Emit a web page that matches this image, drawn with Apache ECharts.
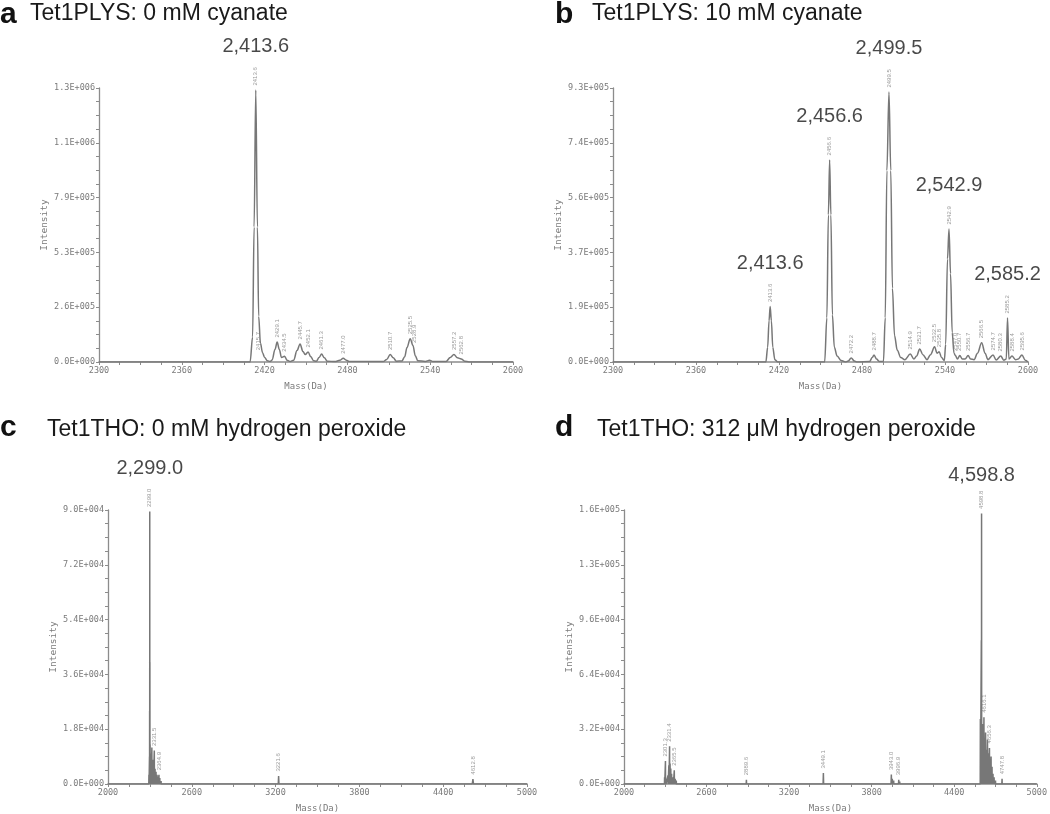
<!DOCTYPE html>
<html>
<head>
<meta charset="utf-8">
<script src="https://cdn.jsdelivr.net/npm/echarts@6/dist/echarts.min.js"></script>
<style>
html, body { margin: 0; padding: 0; background: #fff; }
#chart { width: 1050px; height: 814px; }
</style>
</head>
<body>
<div id="chart"></div>
<script>
// panel titles
var panelLetters = ['a', 'b', 'c', 'd'];
var panelTitles = [
  'Tet1PLYS: 0 mM cyanate',
  'Tet1PLYS: 10 mM cyanate',
  'Tet1THO: 0 mM hydrogen peroxide',
  'Tet1THO: 312 \u03bcM hydrogen peroxide'
];

// axis ranges / tick labels
var yMax = [1.32e6, 9.3e5, 9.0e4, 1.6e5];
var yStep = [2.64e5, 1.86e5, 1.8e4, 3.2e4];
var xLabelsTop = [2300, 2360, 2420, 2480, 2540, 2600];
var xTicksTop = [2300, 2315, 2330, 2345, 2360, 2375, 2390, 2405, 2420, 2435, 2450, 2465,
  2480, 2495, 2510, 2525, 2540, 2555, 2570, 2585, 2600];
var xLabelsBottom = [2000, 2600, 3200, 3800, 4400, 5000];
var xTicksBottom = [2000, 2150, 2300, 2450, 2600, 2750, 2900, 3050, 3200, 3350, 3500, 3650,
  3800, 3950, 4100, 4250, 4400, 4550, 4700, 4850, 5000];

// spectra: [mass, intensity]
var spectrumA = [
  [2300, 0], [2409.5, 0], [2411.3, 1.2e5], [2412.4, 6.5e5], [2413.6, 1.31e6], [2414.8, 6.5e5],
  [2415.7, 2.2e5], [2417, 9e4], [2418.5, 4.5e4], [2420, 2.2e4], [2422, 6e3], [2424, 2e3],
  [2425.5, 1e4], [2427.5, 6e4], [2429.1, 9.6e4], [2430.7, 6e4], [2432.2, 2.2e4], [2434.5, 2.8e4],
  [2436.3, 8e3], [2438.5, 2e3], [2441, 8e3], [2443.5, 5.5e4], [2445.7, 8.7e4], [2447.8, 5e4],
  [2449.5, 3.6e4], [2451.5, 4.8e4], [2453.5, 2.5e4], [2455.5, 6e3], [2457.5, 4e3],
  [2459.5, 2.2e4], [2461.3, 3.8e4], [2463.3, 2e4], [2465.5, 4e3], [2471, 2e3],
  [2474.5, 8e3], [2477, 1.8e4], [2479.2, 9e3], [2481.5, 2e3], [2506, 2e3],
  [2508.5, 1.2e4], [2511, 3.6e4], [2513.2, 2e4], [2515.5, 4e3], [2519.5, 5e3],
  [2521.5, 2.5e4], [2523.2, 7e4], [2525.5, 1.12e5], [2527.5, 8e4], [2529.2, 3e4], [2531, 6e3],
  [2536.5, 3e3], [2539.5, 8e3], [2542, 2e3], [2551.5, 2e3], [2554.5, 2.2e4], [2557.2, 3.6e4],
  [2559.7, 2e4], [2562.5, 1.5e4], [2565, 4e3], [2568, 0], [2600, 0]
];
var spectrumB = [
  [2300, 0], [2410.5, 0], [2411.8, 5e4], [2412.8, 1.4e5], [2413.6, 1.88e5], [2414.5, 1.4e5],
  [2415.5, 5e4], [2417, 8e3], [2419, 0], [2453, 0], [2454.6, 1.5e5], [2455.7, 5e5],
  [2456.6, 6.86e5], [2457.5, 5e5], [2458.6, 1.6e5], [2460, 5e4], [2462, 2e4], [2465, 5e3],
  [2468, 0], [2470, 3e3], [2472.2, 1.4e4], [2474.5, 3e3], [2476.5, 0], [2485.5, 2e3],
  [2487.5, 1.6e4], [2488.7, 2.4e4], [2490.5, 1e4], [2492.5, 2e3], [2495.5, 2e3],
  [2496.8, 1.5e5], [2498, 6.5e5], [2499.5, 9.16e5], [2500.8, 6.5e5], [2502, 2.5e5],
  [2503.5, 9e4], [2505.5, 4e4], [2508, 1.5e4], [2511, 8e3], [2514.9, 2.7e4], [2517.5, 1e4],
  [2519.5, 2e4], [2521.7, 4.4e4], [2524, 2.5e4], [2527, 8e3], [2529.5, 2.5e4], [2532.5, 5.2e4],
  [2534.2, 3e4], [2535.8, 3.5e4], [2537.5, 1.5e4], [2539.5, 5e3], [2540.5, 6e4],
  [2541.8, 3.5e5], [2542.9, 4.51e5], [2544, 3e5], [2545.2, 1e5], [2546.5, 3e4], [2547.5, 2.2e4],
  [2549, 1e4], [2550.7, 2.2e4], [2552.5, 1e4], [2554.5, 1e4], [2556.7, 2.2e4], [2558.5, 1e4],
  [2561, 8e3], [2563.5, 3e4], [2566.5, 6.5e4], [2569, 3e4], [2571, 8e3], [2574.7, 2.4e4],
  [2577, 7e3], [2580.3, 2e4], [2582.5, 6e3], [2584.3, 1e4], [2585.2, 1.49e5], [2586.2, 1e4],
  [2588.4, 2e4], [2591, 8e3], [2593, 1e4], [2595.6, 2.4e4], [2598, 6e3], [2600, 0]
];
var spectrumC = [
  [2000, 0], [2292, 0], [2293, 3e3], [2294, 0], [2296.5, 0], [2297, 9e3], [2297.6, 0],
  [2298, 2.4e4], [2298.5, 0], [2299, 8.95e4], [2299.5, 0], [2300, 4.0e4], [2300.6, 0],
  [2301.5, 1.3e4], [2302.2, 0], [2304, 1.0e4], [2305, 0], [2309, 7e3], [2310, 0],
  [2314, 1.2e4], [2315, 0], [2319, 8e3], [2320, 0], [2324, 6e3], [2325, 0],
  [2331.5, 1.1e4], [2332.5, 0], [2337, 5e3], [2338, 0], [2344, 4e3], [2345, 0],
  [2351, 3e3], [2352, 0], [2358, 2.5e3], [2359, 0], [2364.9, 3e3], [2366, 0],
  [2371, 2e3], [2372, 0], [2380, 1e3], [2381, 0],
  [3219, 0], [3221.6, 2.6e3], [3224, 0], [4608, 0], [4612.8, 1.6e3], [4617, 0], [5000, 0]
];
var spectrumD = [
  [2000, 0], [2294, 0], [2295, 4e3], [2296, 0], [2300.5, 0], [2301.3, 1.34e4], [2302, 0],
  [2304.5, 0], [2305, 3e3], [2306, 0], [2319, 0], [2320, 5e3], [2321, 0], [2325, 0],
  [2326, 1.1e4], [2327, 0], [2330.5, 0], [2331.4, 2.2e4], [2332, 0], [2334.5, 0],
  [2335, 1.2e4], [2336, 0], [2339, 0], [2340, 9e3], [2341, 0], [2345, 0], [2346, 6e3],
  [2347, 0], [2351, 0], [2352, 4e3], [2353, 0], [2357, 0], [2358, 3e3], [2359, 0],
  [2364.5, 0], [2365.5, 8e3], [2366.5, 0], [2371, 0], [2372, 3e3], [2373, 0], [2379, 0],
  [2380, 2e3], [2381, 0],
  [2888, 0], [2889.6, 2.5e3], [2891, 0], [3447, 0], [3449.1, 6.4e3], [3451, 0],
  [3941, 0], [3943, 5.5e3], [3945, 0], [3949, 0], [3950, 3e3], [3951, 0], [3959, 0],
  [3960, 2e3], [3961, 0], [3995, 0], [3996.9, 2.5e3], [3998, 0], [4003, 0], [4004, 1.5e3],
  [4005, 0],
  [4589, 0], [4590, 3.8e4], [4591, 0], [4596, 0], [4597, 8.4e4], [4598, 0], [4598.8, 1.58e5],
  [4599.6, 0], [4604, 0], [4605, 3.5e4], [4606, 0], [4609, 0], [4610, 3e4], [4611, 0],
  [4615, 0], [4616.1, 3.9e4], [4617, 0], [4621, 0], [4622, 2.5e4], [4623, 0], [4627, 0],
  [4628, 3e4], [4629, 0], [4634, 0], [4635, 2e4], [4636, 0], [4641, 0], [4642, 2.6e4],
  [4643, 0], [4647, 0], [4648, 1.8e4], [4649, 0], [4655, 0], [4656.3, 2.1e4], [4657, 0],
  [4661, 0], [4662, 1.4e4], [4663, 0], [4667, 0], [4668, 1.6e4], [4669, 0], [4674, 0],
  [4675, 1e4], [4676, 0], [4681, 0], [4682, 6e3], [4683, 0], [4689, 0], [4690, 4e3],
  [4691, 0], [4699, 0], [4700, 2e3], [4701, 0], [4746, 0], [4747.8, 3e3], [4749, 0], [5000, 0]
];

// small rotated peak labels: [mass, intensity, text]
var peakTagsA = [
  [2413.6, 1.31e6, '2413.6'], [2415.7, 3.5e4, '2415.7'], [2429.1, 9.6e4, '2429.1'],
  [2434.5, 2.8e4, '2434.5'], [2445.7, 8.7e4, '2445.7'], [2451.5, 4.8e4, '2452.1'],
  [2461.3, 3.8e4, '2461.3'], [2477, 1.8e4, '2477.0'], [2511, 3.6e4, '2510.7'],
  [2525.5, 1.12e5, '2525.5'], [2528.5, 7e4, '2528.9'], [2557.2, 3.6e4, '2557.2'],
  [2562.5, 1.5e4, '2562.8']
];
var peakTagsB = [
  [2413.6, 1.88e5, '2413.6'], [2456.6, 6.86e5, '2456.6'], [2472.2, 1.4e4, '2472.2'],
  [2488.7, 2.4e4, '2488.7'], [2499.5, 9.16e5, '2499.5'], [2514.9, 2.7e4, '2514.9'],
  [2521.7, 4.4e4, '2521.7'], [2532.5, 5.2e4, '2532.5'], [2535.8, 3.5e4, '2535.8'],
  [2542.9, 4.51e5, '2542.9'], [2547.5, 2.2e4, '2547.0'], [2550.7, 2.2e4, '2550.7'],
  [2556.7, 2.2e4, '2556.7'], [2566.5, 6.5e4, '2566.5'], [2574.7, 2.4e4, '2574.7'],
  [2580.3, 2e4, '2580.3'], [2585.2, 1.49e5, '2585.2'], [2588.4, 2e4, '2588.4'],
  [2595.6, 2.4e4, '2595.6']
];
var peakTagsC = [
  [2299, 8.95e4, '2299.0'], [2331.5, 1.1e4, '2331.5'], [2364.9, 3e3, '2364.9'],
  [3221.6, 2.6e3, '3221.6'], [4612.8, 1.6e3, '4612.8']
];
var peakTagsD = [
  [2301.3, 1.34e4, '2301.3'], [2331.4, 2.2e4, '2331.4'], [2365.5, 8e3, '2365.5'],
  [2889.6, 2.5e3, '2889.6'], [3449.1, 6.4e3, '3449.1'], [3943, 5.5e3, '3943.0'],
  [3996.9, 2.5e3, '3996.9'], [4598.8, 1.58e5, '4598.8'], [4616.1, 3.9e4, '4616.1'],
  [4656.3, 2.1e4, '4656.3'], [4747.8, 3e3, '4747.8']
];

// large annotations: [mass, intensity, text]
var calloutsA = [[2413.6, 1.31e6, '2,413.6']];
var calloutsB = [
  [2413.6, 1.88e5, '2,413.6'], [2456.6, 6.86e5, '2,456.6'], [2499.5, 9.16e5, '2,499.5'],
  [2542.9, 4.51e5, '2,542.9'], [2585.2, 1.49e5, '2,585.2']
];
var calloutsC = [[2299, 8.95e4, '2,299.0']];
var calloutsD = [[4598.8, 1.58e5, '4,598.8']];

var spectra = [spectrumA, spectrumB, spectrumC, spectrumD];
var peakTags = [peakTagsA, peakTagsB, peakTagsC, peakTagsD];
var callouts = [calloutsA, calloutsB, calloutsC, calloutsD];
var calloutGap = [33, 33, 33, 27];

var grids = [
  { left: 99, top: 88, width: 414, height: 274 },
  { left: 613, top: 88, width: 415, height: 274 },
  { left: 108, top: 510, width: 419, height: 275 },
  { left: 624, top: 510, width: 413, height: 275 }
];

var mono = 'DejaVu Sans Mono';
var axisGray = '#8c8c8c';
var textGray = '#7a7a7a';

function sci(v) {
  if (v === 0) return '0.0E+000';
  var e = Math.floor(Math.log10(v));
  var m = v / Math.pow(10, e);
  if (+m.toFixed(1) >= 10) { m /= 10; e += 1; }
  return m.toFixed(1) + 'E+' + String(e).padStart(3, '0');
}

var titles = [];
var letterPos = [[0, 0], [555, 0], [0, 413], [555, 413]];
var textPos = [[30, 2], [592, 2], [47, 418], [597, 418]];
for (var i = 0; i < 4; i++) {
  titles.push({
    text: panelLetters[i], left: letterPos[i][0], top: letterPos[i][1], padding: 0,
    textStyle: { fontFamily: 'Liberation Sans', fontSize: 30, fontWeight: 'bold', color: '#111' }
  });
  titles.push({
    text: panelTitles[i], left: textPos[i][0], top: textPos[i][1], padding: 0,
    textStyle: { fontFamily: 'Liberation Sans', fontSize: 23, fontWeight: 'normal', color: '#1a1a1a' }
  });
}

var xAxes = [], yAxes = [], series = [];
for (var k = 0; k < 4; k++) {
  var isTop = k < 2;
  xAxes.push({
    gridIndex: k, type: 'value',
    min: isTop ? 2300 : 2000, max: isTop ? 2600 : 5000,
    name: 'Mass(Da)', nameLocation: 'middle', nameGap: 20,
    nameTextStyle: { fontFamily: mono, fontSize: 9, color: textGray },
    axisLine: { show: true, lineStyle: { color: axisGray, width: 1.6 } },
    axisTick: { show: true, length: 3, lineStyle: { color: axisGray }, customValues: isTop ? xTicksTop : xTicksBottom },
    axisLabel: {
      fontFamily: mono, fontSize: 8.5, color: textGray, margin: 4,
      customValues: isTop ? xLabelsTop : xLabelsBottom,
      formatter: function (v) { return String(v); }
    },
    splitLine: { show: false }
  });
  yAxes.push({
    gridIndex: k, type: 'value', min: 0, max: yMax[k], interval: yStep[k],
    name: 'Intensity', nameLocation: 'middle', nameGap: 49, nameRotate: 90,
    nameTextStyle: { fontFamily: mono, fontSize: 9.5, color: textGray },
    axisLine: { show: true, lineStyle: { color: axisGray, width: 1.3 } },
    axisTick: { show: true, length: 3, lineStyle: { color: axisGray } },
    minorTick: { show: true, splitNumber: 4, length: 3, lineStyle: { color: axisGray } },
    axisLabel: { fontFamily: mono, fontSize: 8.5, color: textGray, margin: 4, formatter: sci },
    splitLine: { show: false }
  });
  series.push({
    type: 'line', xAxisIndex: k, yAxisIndex: k, data: spectra[k],
    showSymbol: false, smooth: isTop ? 0.35 : false, smoothMonotone: 'x',
    lineStyle: { color: '#777', width: 1.5 }, silent: true, z: 3
  });
  series.push({
    type: 'scatter', xAxisIndex: k, yAxisIndex: k, data: peakTags[k],
    symbolSize: 1, itemStyle: { color: 'rgba(0,0,0,0)' }, silent: true, z: 4,
    label: {
      show: true, position: 'top', distance: 4, rotate: 90, align: 'left', verticalAlign: 'middle',
      fontFamily: 'Liberation Sans', fontSize: 6, color: '#808080',
      formatter: function (p) { return p.data[2]; }
    }
  });
  series.push({
    type: 'scatter', xAxisIndex: k, yAxisIndex: k, data: callouts[k],
    symbolSize: 1, itemStyle: { color: 'rgba(0,0,0,0)' }, silent: true, z: 5,
    label: {
      show: true, position: 'top', distance: calloutGap[k],
      fontFamily: 'Liberation Sans', fontSize: 20, color: '#1a1a1a',
      formatter: function (p) { return p.data[2]; }
    }
  });
}

var chart = echarts.init(document.getElementById('chart'));
chart.setOption({
  animation: false,
  backgroundColor: '#fff',
  title: titles,
  grid: grids,
  xAxis: xAxes,
  yAxis: yAxes,
  series: series
});
</script>
</body>
</html>
